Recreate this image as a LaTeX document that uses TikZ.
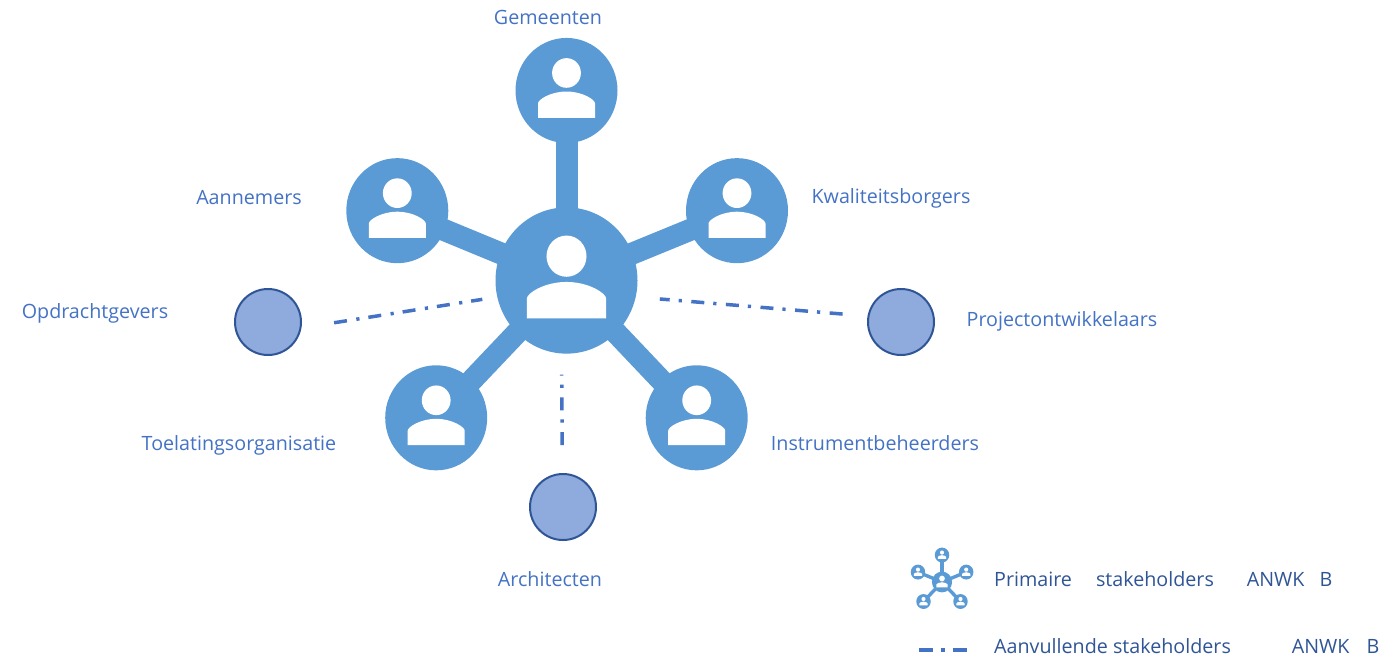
\documentclass[tikz,border=0pt]{standalone}
\usepackage{fontspec}
\setmainfont{Open Sans}
\definecolor{hubblue}{HTML}{5B9BD5}
\definecolor{linkblue}{HTML}{4472C4}
\definecolor{legendblue}{HTML}{2F5597}
\definecolor{extrafill}{HTML}{8FAADC}
\tikzset{
  x=1pt,y=-1pt,
  hubnode/.style={circle,fill=hubblue,inner sep=0pt,minimum size=#1,transform shape},
  extranode/.style={circle,fill=extrafill,draw=legendblue,line width=2pt,inner sep=0pt,minimum size=66pt},
  linklabel/.style={text=linkblue,font=\fontsize{19.7}{24}\selectfont,inner sep=0pt,anchor=base},
  legendlabel/.style={text=legendblue,font=\fontsize{19.7}{24}\selectfont,inner sep=0pt,anchor=base west},
  extralink/.style={draw=linkblue,line width=3.5pt,dash pattern=on 13pt off 9.5pt on 3.2pt off 9pt},
  person/.pic={
    \fill[white] (0,-17) circle[radius=14.4];
    \fill[white] (-28.5,26.5) -- (-28.5,12.5) .. controls (-28.5,9) and (-16,1) .. (0,1)
      .. controls (16,1) and (28.5,9) .. (28.5,12.5) -- (28.5,26.5) -- cycle;
  }
}
% #1 prefix, #2 x, #3 y, #4 scale, #5 spoke width
\newcommand{\hubnet}[5]{%
  \begin{scope}[shift={(#2,#3)},xscale=#4,yscale=#4*1.03]
    \node[hubnode=142pt] (#1c) at (0,0) {};
    \node[hubnode=102pt] (#1t) at (0,-184.5) {};
    \node[hubnode=102pt] (#1l) at (-169.2,-67.8) {};
    \node[hubnode=102pt] (#1r) at (170.5,-67.8) {};
    \node[hubnode=102pt] (#1a) at (-130.3,133.3) {};
    \node[hubnode=102pt] (#1b) at (130.2,133.3) {};
    \foreach \n in {t,l,r,a,b}
      \draw[hubblue,line width=#5] (#1c.center) -- (#1\n.center);
    \pic[transform shape,scale=1.39] at (0,0) {person};
    \foreach \px/\py in {0/-184.5,-169.2/-67.8,170.5/-67.8,-130.3/133.3,130.2/133.3}
      \pic[transform shape] at (\px,\py) {person};
  \end{scope}}
\begin{document}
\begin{tikzpicture}
\useasboundingbox (0,0) rectangle (1400,657);
\hubnet{m}{566.5}{280.5}{1}{22pt}
\hubnet{k}{942}{582}{0.142}{3.4pt}

\node[extranode] (opd) at (268,322) {};
\node[extranode] (pro) at (901,322) {};
\node[extranode] (arc) at (563,507) {};

\draw[extralink,shorten <=33pt,shorten >=15pt] (opd.-10) -- (mc.193);
\draw[extralink,shorten <=25pt,shorten >=24pt] (pro.170) -- (mc.-13);
\draw[extralink,shorten <=28pt,shorten >=21pt] (arc.91) -- (mc.-94);

\node[linklabel] (l1) at (548,24) {Gemeenten};
\node[linklabel] (l2) at (249,204) {Aannemers};
\node[linklabel] (l3) at (891,203) {Kwaliteitsborgers};
\node[linklabel] (l4) at (95,318) {Opdrachtgevers};
\node[linklabel] (l5) at (1062,326) {Projectontwikkelaars};
\node[linklabel] (l6) at (239,450) {Toelatingsorganisatie};
\node[linklabel] (l7) at (875,450) {Instrumentbeheerders};
\node[linklabel] (l8) at (550,586) {Architecten};

\node[legendlabel] (p1) at (994,586) {Primaire\hspace{24pt}stakeholders\hspace{33pt}ANWK\hspace{15pt}B};
\node[legendlabel] (p2) at (994,653) {Aanvullende stakeholders\hspace{61pt}ANWK\hspace{17pt}B};
\coordinate (k1) at (919,650);
\coordinate (k2) at (967,650);
\draw[draw=linkblue,line width=3.5pt,dash pattern=on 14pt off 8pt on 3.5pt off 8pt] (k1) -- (k2);
\end{tikzpicture}
\end{document}
